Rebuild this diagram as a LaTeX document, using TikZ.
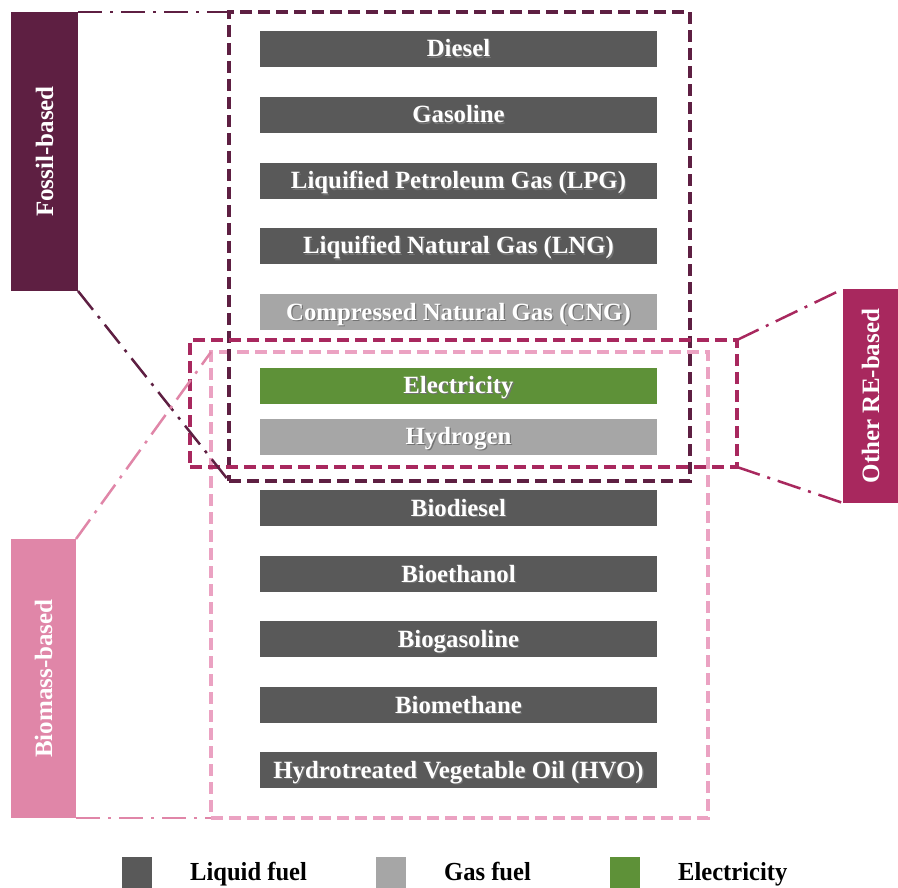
\documentclass[tikz,border=0pt]{standalone}
\usepackage{fontspec}
\setmainfont{Liberation Serif}
\usepackage{graphicx}
\definecolor{fossil}{HTML}{5E1F42}
\definecolor{otherre}{HTML}{A8285E}
\definecolor{biomass}{HTML}{E086A8}
\definecolor{biomassline}{HTML}{EBA2C2}
\definecolor{liquid}{HTML}{595959}
\definecolor{gas}{HTML}{A6A6A6}
\definecolor{elec}{HTML}{5E9138}
\newcommand\shtext[1]{\makebox[0pt][l]{\raisebox{-1.3pt}{\hspace{1.3pt}\textcolor{black!55}{#1}}}#1}
\tikzset{
  fuel/.style={minimum width=397pt, minimum height=36pt, inner sep=0pt, outer sep=0pt, text=white,
    text height=18pt, text depth=2pt, font=\fontsize{24.8}{26}\selectfont\bfseries},
  groupbox/.style={draw, line width=3.8pt, dash pattern=on 12pt off 6pt, inner sep=0pt, outer sep=0pt},
  grouplabel/.style={inner sep=0pt, outer sep=0pt, text=white, font=\fontsize{25}{26}\selectfont\bfseries},
  dd/.style={line width=2.5pt, dash pattern=on 24pt off 8pt on 3pt off 8pt},
  legsq/.style={minimum width=30pt, minimum height=31pt, inner sep=0pt, outer sep=0pt},
  legtext/.style={anchor=base west, inner sep=0pt, font=\fontsize{26}{28}\selectfont\bfseries}
}
\begin{document}
\begin{tikzpicture}[x=1pt, y=-1pt]
\useasboundingbox (0,0) rectangle (898,888);
% fuel boxes
\node[fuel, fill=liquid] (diesel) at (458.5,49) {\shtext{Diesel}};
\node[fuel, fill=liquid] (gasoline) at (458.5,115) {\shtext{Gasoline}};
\node[fuel, fill=liquid] (lpg) at (458.5,181) {\shtext{Liquified Petroleum Gas (LPG)}};
\node[fuel, fill=liquid] (lng) at (458.5,246) {\shtext{Liquified Natural Gas (LNG)}};
\node[fuel, fill=gas] (cng) at (458.5,312) {\shtext{Compressed Natural Gas (CNG)}};
\node[fuel, fill=elec] (elec) at (458.5,385.5) {\shtext{Electricity}};
\node[fuel, fill=gas] (h2) at (458.5,436.5) {\shtext{Hydrogen}};
\node[fuel, fill=liquid] (biodiesel) at (458.5,508) {\shtext{Biodiesel}};
\node[fuel, fill=liquid] (bioethanol) at (458.5,574) {\shtext{Bioethanol}};
\node[fuel, fill=liquid] (biogasoline) at (458.5,639) {\shtext{Biogasoline}};
\node[fuel, fill=liquid] (biomethane) at (458.5,705) {\shtext{Biomethane}};
\node[fuel, fill=liquid] (hvo) at (458.5,770) {\shtext{Hydrotreated Vegetable Oil (HVO)}};
% group boxes
\node[groupbox, draw=biomassline, minimum width=497pt, minimum height=466pt] (bbox) at (459.5,585) {};
\node[groupbox, draw=fossil, minimum width=461pt, minimum height=469pt] (fbox) at (459.5,246.5) {};
\node[groupbox, draw=otherre, minimum width=547pt, minimum height=127pt] (obox) at (463.5,403.5) {};
% group labels
\node[grouplabel, fill=fossil, minimum width=67pt, minimum height=279pt] (fl) at (44.5,151.5) {\rotatebox{90}{Fossil-based}};
\node[grouplabel, fill=otherre, minimum width=55pt, minimum height=214pt] (ol) at (870.5,396) {\rotatebox{90}{Other RE-based}};
\node[grouplabel, fill=biomass, minimum width=65pt, minimum height=279pt] (bl) at (43.5,678.5) {\rotatebox{90}{Biomass-based}};
% dash-dot connectors
\draw[dd, fossil] (fl.north east) -- (fbox.north west);
\draw[dd, fossil] (fl.south east) -- (fbox.south west);
\draw[dd, otherre] (obox.north east) -- (ol.north west);
\draw[dd, otherre] (obox.south east) -- (ol.south west);
\draw[dd, biomass] (bl.north east) -- (bbox.north west);
\draw[dd, biomass] (bl.south east) -- (bbox.south west);
% legend
\node[legsq, fill=liquid] (sqliquid) at (137,872.5) {};
\node[legsq, fill=gas] (sqgas) at (391,872.5) {};
\node[legsq, fill=elec] (sqelec) at (625,872.5) {};
\node[legtext] (tliquid) at (190,880.5) {\scalebox{0.945}[1]{Liquid fuel}};
\node[legtext] (tgas) at (444,880.5) {\scalebox{0.945}[1]{Gas fuel}};
\node[legtext] (telec) at (678,880.5) {\scalebox{0.945}[1]{Electricity}};
\end{tikzpicture}
\end{document}
